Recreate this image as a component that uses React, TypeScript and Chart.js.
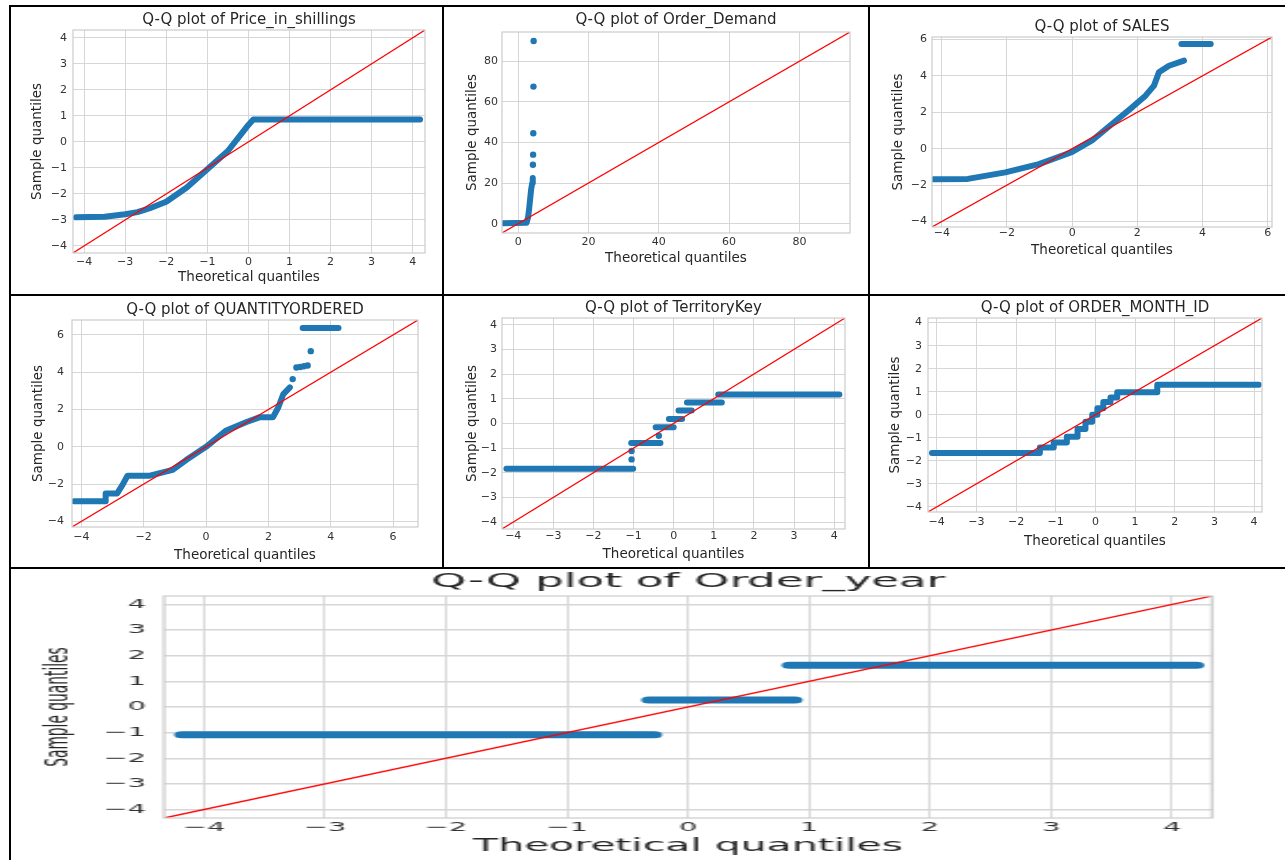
import React, { useEffect, useRef } from "react";
import { Chart, registerables } from "chart.js";

Chart.register(...registerables);

// ---------------- data ----------------
// Q-Q plot of Price_in_shillings
const priceX = [-4.2, -3.5, -3.0, -2.7, -2.4, -2.0, -1.5, -1.0, -0.5, -0.2, 0.0, 0.12, 4.18];
const priceY = [-2.9, -2.88, -2.78, -2.7, -2.55, -2.3, -1.75, -1.05, -0.35, 0.25, 0.65, 0.86, 0.86];
const priceLim = [-4.27, 4.3];
const priceTicks = [-4, -3, -2, -1, 0, 1, 2, 3, 4];

// Q-Q plot of Order_Demand
const demandX = [-4.3, 2.4, 2.8, 3.1, 3.4, 3.7, 4.0, 4.15];
const demandY = [0.2, 0.4, 3, 7, 12, 17, 20, 22.5];
const demandOutX = [4.2, 4.25, 4.3, 4.35, 4.4];
const demandOutY = [29, 34, 44.5, 67.5, 90];
const demandLim = [-4.6, 94.4];
const demandTicks = [0, 20, 40, 60, 80];

// Q-Q plot of SALES
const salesX = [-4.25, -3.2, -2.05, -1.02, 0, 0.61, 1.23, 1.84, 2.25, 2.51, 2.66, 2.97, 3.43, null, 3.35, 4.25];
const salesY = [-1.68, -1.66, -1.3, -0.85, -0.18, 0.45, 1.37, 2.27, 2.91, 3.46, 4.19, 4.55, 4.83, null, 5.74, 5.74];
const salesLim = [-4.3, 6.13];
const salesTicks = [-4, -2, 0, 2, 4, 6];

// Q-Q plot of QUANTITYORDERED
const qtyX = [-4.24, -3.22, -3.22, -2.85, -2.68, -2.52, -1.8, -1.07, -0.64, 0, 0.65, 1.3, 1.73, 2.15, 2.32, 2.48, 2.69, null, 3.1, 4.25];
const qtyY = [-2.92, -2.92, -2.5, -2.5, -2.04, -1.55, -1.55, -1.24, -0.71, 0, 0.88, 1.33, 1.59, 1.59, 2.12, 2.83, 3.19, null, 6.37, 6.37];
const qtyDotX = [2.78, 2.9, 3.02, 3.14, 3.26, 3.36];
const qtyDotY = [3.63, 4.25, 4.28, 4.32, 4.36, 5.13];
const qtyLim = [-4.3, 6.8];
const qtyTicks = [-4, -2, 0, 2, 4, 6];

// Q-Q plot of TerritoryKey
const terrX = [-4.17, -1.01, null, -1.06, -0.33, null, -0.45, 0, null, -0.12, 0.21, null, 0.12, 0.45, null, 0.33, 1.2, null, 1.11, 4.13];
const terrY = [-1.84, -1.84, null, -0.8, -0.8, null, -0.16, -0.16, null, 0.18, 0.18, null, 0.52, 0.52, null, 0.85, 0.85, null, 1.17, 1.17];
const terrDotX = [-1.05, -1.05, -0.37];
const terrDotY = [-1.46, -1.12, -0.5];
const terrLim = [-4.28, 4.27];
const terrTicks = [-4, -3, -2, -1, 0, 1, 2, 3, 4];

// Q-Q plot of ORDER_MONTH_ID
const monthX = [-4.12, -1.4, -1.4, -1.05, -1.05, -0.72, -0.72, -0.45, -0.45, -0.25, -0.25, -0.08, -0.08, 0.05, 0.05, 0.2, 0.2, 0.38, 0.38, 0.55, 0.55, 1.56, 1.56, 4.12];
const monthY = [-1.66, -1.66, -1.42, -1.42, -1.2, -1.2, -0.95, -0.95, -0.62, -0.62, -0.3, -0.3, 0.0, 0.0, 0.28, 0.28, 0.55, 0.55, 0.75, 0.75, 0.98, 0.98, 1.3, 1.3];
const monthLim = [-4.22, 4.2];
const monthTicks = [-4, -3, -2, -1, 0, 1, 2, 3, 4];

// Q-Q plot of Order_year
const yearX = [-4.18, -0.28, null, -0.32, 0.88, null, 0.84, 4.2];
const yearY = [-1.08, -1.08, null, 0.27, 0.27, null, 1.63, 1.63];
const yearLim = [-4.33, 4.33];
const yearTicks = [-4, -3, -2, -1, 0, 1, 2, 3, 4];

// ---------------- styling / layout ----------------
const BLUE = "#1f77b4";
const RED = "#ff0000";
const GRID = "#d6d6d6";
const FRAME = "#cccccc";
const TEXT = "#333333";
const FAMILY = "'DejaVu Sans', sans-serif";

type Spec = {
  title: string;
  cell: [number, number, number, number];
  sx: number;
  area: [number, number, number, number];
  lim: number[];
  ticks: number[];
  titleY: number;
  xtickY: number;
  xlabelY: number;
  ylabelX: number;
  ytickRight: number;
  fTitle: number;
  fLabel: number;
  fYLabel: number;
  fTick: number;
  lineW: number;
  redW: number;
  dotR: number;
  gridWx: number;
  gridWy: number;
  xs: (number | null)[];
  ys: (number | null)[];
  dx?: number[];
  dy?: number[];
};

const small = { sx: 1, fTitle: 15, fLabel: 13.5, fYLabel: 13.5, fTick: 11, lineW: 6, redW: 1.2, dotR: 3.2, gridWx: 1, gridWy: 1 };

const SPECS: Spec[] = [
  { ...small, title: "Q-Q plot of Price_in_shillings", cell: [12, 8, 430, 286], area: [73, 30, 425, 253], lim: priceLim, ticks: priceTicks,
    titleY: 20, xtickY: 262, xlabelY: 277, ylabelX: 37, ytickRight: 67, xs: priceX, ys: priceY },
  { ...small, title: "Q-Q plot of Order_Demand", cell: [445, 8, 423, 286], area: [502, 32, 850, 233], lim: demandLim, ticks: demandTicks,
    titleY: 20, xtickY: 242, xlabelY: 258, ylabelX: 472, ytickRight: 498, xs: demandX, ys: demandY, dx: demandOutX, dy: demandOutY },
  { ...small, title: "Q-Q plot of SALES", cell: [871, 8, 414, 286], area: [932, 37, 1272, 227], lim: salesLim, ticks: salesTicks,
    titleY: 27, xtickY: 233, xlabelY: 250, ylabelX: 898, ytickRight: 927, xs: salesX, ys: salesY },
  { ...small, title: "Q-Q plot of QUANTITYORDERED", cell: [12, 297, 430, 270], area: [72, 320, 418, 527], lim: qtyLim, ticks: qtyTicks,
    titleY: 310, xtickY: 537, xlabelY: 555, ylabelX: 38, ytickRight: 64, xs: qtyX, ys: qtyY, dx: qtyDotX, dy: qtyDotY },
  { ...small, title: "Q-Q plot of TerritoryKey", cell: [445, 297, 423, 270], area: [502, 318, 845, 529], lim: terrLim, ticks: terrTicks,
    titleY: 308, xtickY: 536, xlabelY: 554, ylabelX: 472, ytickRight: 497, xs: terrX, ys: terrY, dx: terrDotX, dy: terrDotY },
  { ...small, title: "Q-Q plot of ORDER_MONTH_ID", cell: [871, 297, 414, 270], area: [928, 318, 1262, 512], lim: monthLim, ticks: monthTicks,
    titleY: 308, xtickY: 522, xlabelY: 541, ylabelX: 895, ytickRight: 922, xs: monthX, ys: monthY },
  { title: "Q-Q plot of Order_year", cell: [12, 570, 1273, 290], sx: 2.3, area: [164, 596, 1212, 818], lim: yearLim, ticks: yearTicks,
    titleY: 582, xtickY: 828, xlabelY: 846, ylabelX: 60, ytickRight: 146,
    fTitle: 19.6, fLabel: 17.8, fYLabel: 13.8, fTick: 12.5, lineW: 7, redW: 1.3, dotR: 3, gridWx: 0.9, gridWy: 1.5, xs: yearX, ys: yearY },
];

function toPoints(xs: (number | null)[], ys: (number | null)[]) {
  const pts: { x: number; y: number | null }[] = [];
  for (let i = 0; i < xs.length; i++) {
    const x = xs[i];
    const y = ys[i];
    if (x === null || y === null) pts.push({ x: (xs[i - 1] as number), y: null });
    else pts.push({ x, y });
  }
  return pts;
}

const fmt = (v: number | string) => {
  const n = Number(v);
  return n < 0 ? "\u2212" + Math.abs(n) : String(n);
};

const framePlugin = {
  id: "qqFrame",
  afterDatasetsDraw(chart: any) {
    const { ctx, chartArea } = chart;
    ctx.save();
    ctx.strokeStyle = FRAME;
    ctx.lineWidth = 1.2;
    ctx.strokeRect(chartArea.left, chartArea.top, chartArea.right - chartArea.left, chartArea.bottom - chartArea.top);
    ctx.restore();
  },
};

function buildConfig(s: Spec, W: number, H: number): any {
  const [cl, ct, cw] = s.cell;
  const sx = cw / W;
  const aL = (s.area[0] - cl) / sx;
  const aT = s.area[1] - ct;
  const aR = (s.area[2] - cl) / sx;
  const aB = s.area[3] - ct;
  const tY = s.titleY - ct;
  const yScaleLeft = (s.ylabelX - cl) / sx - s.fYLabel / 2;
  const xScaleBottom = s.xlabelY - ct + s.fLabel / 2;
  const yW = aL - yScaleLeft;
  const xH = xScaleBottom - aB;
  const xTickPad = Math.max(0, s.xtickY - ct - aB - s.fTick / 2);
  const yTickPad = Math.max(0, (s.area[0] - s.ytickRight) / sx);

  const datasets: any[] = [
    {
      type: "line",
      label: "45-degree line",
      data: [{ x: s.lim[0], y: s.lim[0] }, { x: s.lim[1], y: s.lim[1] }],
      borderColor: RED,
      borderWidth: s.redW,
      pointRadius: 0,
      order: 0,
    },
    {
      type: "line",
      label: "sample",
      data: toPoints(s.xs, s.ys),
      borderColor: BLUE,
      borderWidth: s.lineW,
      borderCapStyle: "round",
      borderJoinStyle: "round",
      pointRadius: 0,
      spanGaps: false,
      tension: 0,
      order: 1,
    },
  ];
  if (s.dx && s.dy) {
    datasets.push({
      type: "scatter",
      label: "outliers",
      data: s.dx.map((x, i) => ({ x, y: (s.dy as number[])[i] })),
      backgroundColor: BLUE,
      borderColor: BLUE,
      borderWidth: 0,
      pointRadius: s.dotR,
      order: 2,
    });
  }

  const tickFont = { family: FAMILY, size: s.fTick, lineHeight: 1 };
  return {
    type: "scatter",
    data: { datasets },
    plugins: [framePlugin],
    options: {
      responsive: false,
      animation: false,
      devicePixelRatio: 1,
      events: [],
      layout: { padding: { left: yScaleLeft, right: W - aR, top: 0, bottom: H - xScaleBottom } },
      plugins: {
        legend: { display: false },
        tooltip: { enabled: false },
        title: {
          display: true,
          text: s.title,
          color: "#262626",
          fullSize: false,
          font: { family: FAMILY, size: s.fTitle, weight: "normal", lineHeight: 1 },
          padding: { top: tY - s.fTitle / 2, bottom: aT - tY - s.fTitle / 2 },
        },
      },
      scales: {
        x: {
          type: "linear",
          position: "bottom",
          min: s.lim[0],
          max: s.lim[1],
          afterBuildTicks: (sc: any) => {
            sc.ticks = s.ticks.map((v) => ({ value: v }));
          },
          afterFit: (sc: any) => {
            sc.height = xH;
          },
          grid: { color: GRID, lineWidth: s.gridWx, drawTicks: false },
          border: { display: false },
          ticks: { color: TEXT, font: tickFont, padding: xTickPad, callback: fmt, autoSkip: false, maxRotation: 0, minRotation: 0 },
          title: { display: true, text: "Theoretical quantiles", color: "#262626", font: { family: FAMILY, size: s.fLabel, lineHeight: 1 }, padding: 0 },
        },
        y: {
          type: "linear",
          position: "left",
          min: s.lim[0],
          max: s.lim[1],
          afterBuildTicks: (sc: any) => {
            sc.ticks = s.ticks.map((v) => ({ value: v }));
          },
          afterFit: (sc: any) => {
            sc.width = yW;
          },
          grid: { color: GRID, lineWidth: s.gridWy, drawTicks: false },
          border: { display: false },
          ticks: { color: TEXT, font: tickFont, padding: yTickPad, callback: fmt, autoSkip: false },
          title: { display: true, text: "Sample quantiles", color: "#262626", font: { family: FAMILY, size: s.fYLabel, lineHeight: 1 }, padding: 0 },
        },
      },
    },
  };
}

function QQPlot({ spec }: { spec: Spec }) {
  const ref = useRef<HTMLCanvasElement>(null);
  const [cl, ct, cw, ch] = spec.cell;
  const lw = Math.round(cw / spec.sx);
  useEffect(() => {
    if (!ref.current) return;
    const chart = new Chart(ref.current, buildConfig(spec, lw, ch));
    return () => chart.destroy();
  }, [spec, lw, ch]);
  return (
    <canvas
      ref={ref}
      width={lw}
      height={ch}
      style={{ position: "absolute", left: cl, top: ct, width: cw, height: ch }}
    />
  );
}

const lineStyle = (left: number, top: number, width: number, height: number): React.CSSProperties => ({
  position: "absolute",
  left,
  top,
  width,
  height,
  background: "#000",
});

export default function App() {
  return (
    <div style={{ position: "absolute", left: 0, top: 0, width: 1285, height: 860, background: "#fff", overflow: "hidden" }}>
      {SPECS.map((s) => (
        <QQPlot key={s.title} spec={s} />
      ))}
      <div style={lineStyle(9, 5, 1276, 2)} />
      <div style={lineStyle(9, 294, 1276, 2)} />
      <div style={lineStyle(9, 567, 1276, 2)} />
      <div style={lineStyle(9, 5, 2, 855)} />
      <div style={lineStyle(442, 5, 2, 563)} />
      <div style={lineStyle(868, 5, 2, 563)} />
    </div>
  );
}
